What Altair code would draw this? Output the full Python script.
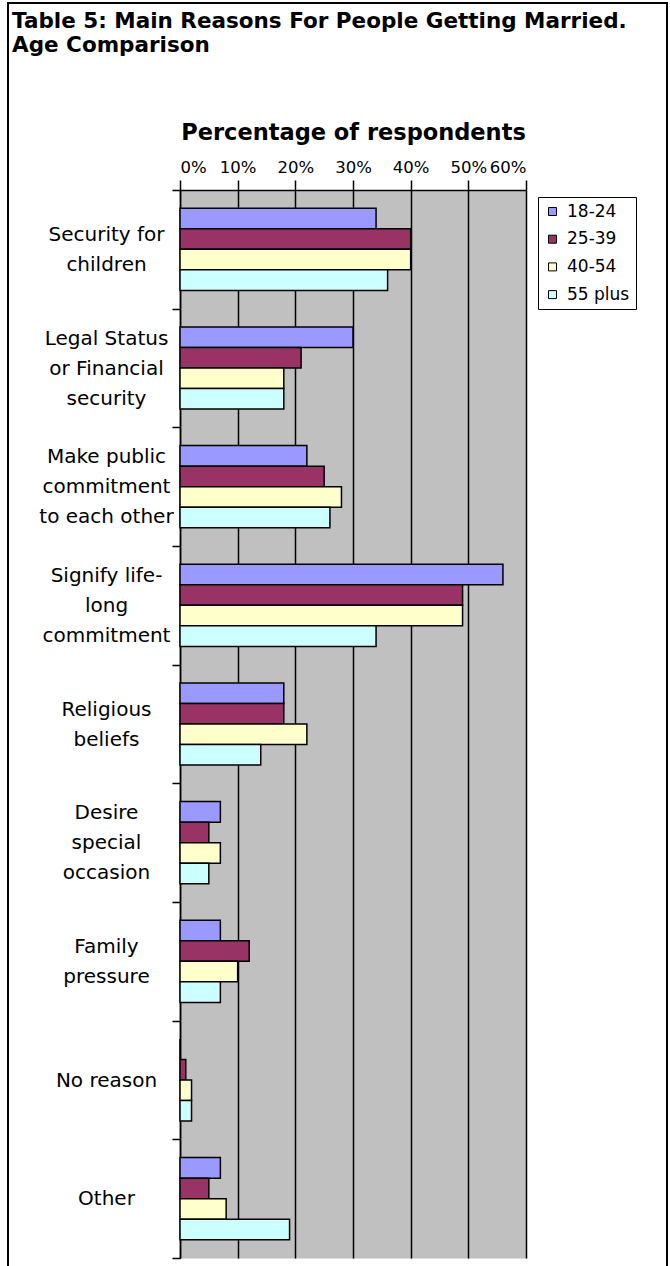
import altair as alt
import pandas as pd

# ---------------- data ----------------
categories = [
    "Security for\nchildren",
    "Legal Status\nor Financial\nsecurity",
    "Make public\ncommitment\nto each other",
    "Signify life-\nlong\ncommitment",
    "Religious\nbeliefs",
    "Desire\nspecial\noccasion",
    "Family\npressure",
    "No reason",
    "Other",
]
age_groups = ["18-24", "25-39", "40-54", "55 plus"]
pct_18_24 = [34, 30, 22, 56, 18, 7, 7, 0, 7]
pct_25_39 = [40, 21, 25, 49, 18, 5, 12, 1, 5]
pct_40_54 = [40, 18, 28, 49, 22, 7, 10, 2, 8]
pct_55_plus = [36, 18, 26, 34, 14, 5, 7, 2, 19]
x_ticks = [0, 10, 20, 30, 40, 50, 60]
colors = ["#9999FF", "#993366", "#FFFFCC", "#CCFFFF"]
title_lines = ["Table 5: Main Reasons For People Getting Married.", "Age Comparison"]
axis_title = "Percentage of respondents"

rows = []
for i, cat in enumerate(categories):
    for age, vals in zip(age_groups, [pct_18_24, pct_25_39, pct_40_54, pct_55_plus]):
        rows.append({"reason": cat, "age": age, "pct": vals[i]})
df = pd.DataFrame(rows)

FONT = "DejaVu Sans"
NLINES = "length(split(datum.value, '\\n'))"

bars = alt.Chart(df).mark_bar(stroke="black", strokeWidth=1.5).encode(
    y=alt.Y(
        "reason:N",
        sort=categories,
        scale=alt.Scale(paddingInner=0, paddingOuter=0),
        axis=alt.Axis(
            title=None,
            tickBand="extent",
            labelExpr="split(datum.label, '\\n')",
            labelAlign="center",
            labelBaseline="middle",
            labelPadding=66,
            labelOffset={
                "condition": [
                    {"test": NLINES + " == 3", "value": -30},
                    {"test": NLINES + " == 2", "value": -15},
                ],
                "value": 0,
            },
            labelFont=FONT,
            labelFontSize=20,
            labelLineHeight=30,
            labelColor="black",
            labelLimit=400,
            tickSize=8,
            tickColor="black",
            tickWidth=1.5,
            domainColor="black",
            domainWidth=1.5,
            grid=False,
        ),
    ),
    yOffset=alt.YOffset(
        "age:N", sort=age_groups, scale=alt.Scale(paddingInner=0, paddingOuter=0.89)
    ),
    x=alt.X(
        "pct:Q",
        scale=alt.Scale(domain=[0, 60], nice=False),
        axis=alt.Axis(
            orient="top",
            values=x_ticks,
            labelExpr="datum.value + '%'",
            labelOverlap=False,
            title=axis_title,
            titleFont=FONT,
            titleFontSize=22.5,
            titleFontWeight="bold",
            titleColor="black",
            titleBaseline="alphabetic",
            titleY=-51,
            labelFont=FONT,
            labelFontSize=16.5,
            labelColor="black",
            labelPadding=5,
            tickSize=10,
            tickColor="black",
            tickWidth=1.5,
            domainColor="black",
            domainWidth=1.5,
            grid=True,
            gridColor="black",
            gridWidth=1.5,
            gridOpacity=1,
        ),
    ),
    color=alt.Color(
        "age:N",
        sort=age_groups,
        scale=alt.Scale(domain=age_groups, range=colors),
        legend=alt.Legend(
            title=None,
            orient="none",
            legendX=358,
            legendY=7,
            strokeColor="black",
            fillColor="white",
            padding=6,
            labelFont=FONT,
            labelFontSize=17,
            labelColor="black",
            symbolType="square",
            symbolSize=64,
            symbolStrokeColor="black",
            symbolStrokeWidth=1,
            rowPadding=9.7,
            labelOffset=6,
        ),
    ),
)

one = pd.DataFrame({"k": [0]})

frame = alt.Chart(one).mark_rect(
    fillOpacity=0, stroke="black", strokeWidth=2
).encode(
    x=alt.value(-172), x2=alt.value(487), y=alt.value(-187), y2=alt.value(1085)
)

title = alt.Chart(one).mark_text(
    align="left",
    baseline="alphabetic",
    font=FONT,
    fontSize=21.5,
    fontWeight="bold",
    color="black",
    lineBreak="\n",
    lineHeight=24,
).encode(
    x=alt.value(-168), y=alt.value(-162), text=alt.value("\n".join(title_lines))
)

chart = alt.layer(bars, frame, title).properties(
    width=346,
    height=1068,
    padding={"left": 180, "top": 190, "right": 144, "bottom": 8},
    autosize=alt.AutoSizeParams(type="none"),
    background="white",
).configure_view(fill="#C0C0C0", stroke="transparent")

chart.save("out.html", embed_options={"renderer": "svg", "actions": False})
